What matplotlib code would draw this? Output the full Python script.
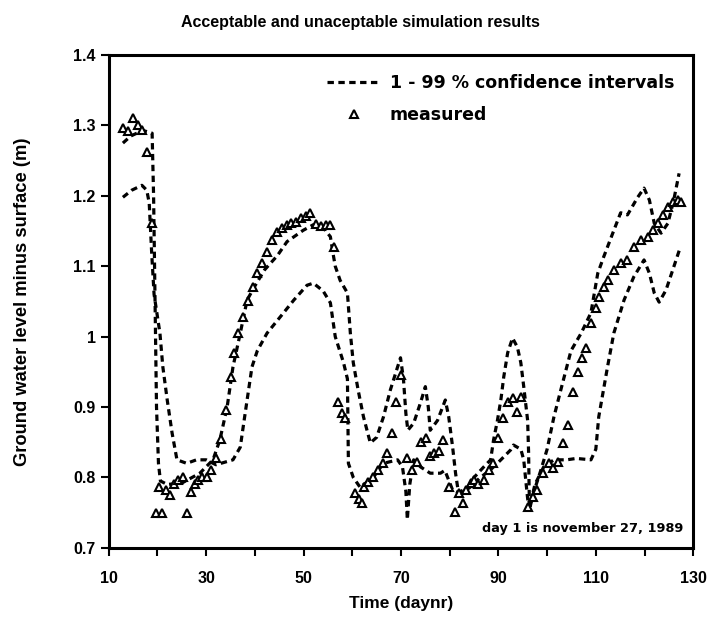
import matplotlib
matplotlib.use("Agg")
import matplotlib.pyplot as plt
from matplotlib.ticker import FixedLocator, FuncFormatter

plt.rcParams['font.family'] = ['Liberation Sans', 'DejaVu Sans']
plt.rcParams['font.weight'] = 'bold'

# --- confidence interval curve 1 ---
ci1_day = [12.9, 14.5, 17.0, 18.9, 19.2, 19.4, 19.6, 19.8, 20.2, 20.6, 22.0, 25.0, 28.7, 31.4, 32.8,
           34.3, 35.5, 37.0, 38.4, 40.0, 42.0, 44.6, 46.6, 49.9, 52.0, 54.0, 55.5, 56.0, 56.5, 57.5,
           59.0, 59.6, 60.2, 61.2, 62.3, 63.7, 65.0, 66.4, 67.8, 69.3, 69.9, 70.5, 71.0, 71.4, 72.6,
           74.0, 75.0, 75.6, 76.0, 77.5, 79.1, 79.8, 80.6, 81.2, 81.8, 83.7, 85.0, 87.0, 88.4, 89.0,
           89.8, 90.5, 91.1, 91.9, 92.9, 93.9, 94.6, 95.2, 96.0, 96.2, 96.3, 96.4, 97.2, 98.7, 100.0,
           101.4, 102.8, 104.9, 107.0, 109.0, 110.4, 111.6, 113.7, 115.1, 116.5, 118.6, 119.9, 121.0,
           122.0, 123.4, 124.8, 126.0, 127.1]
ci1_val = [1.275, 1.285, 1.293, 1.289, 1.20, 1.10, 1.00, 0.90, 0.82, 0.795, 0.790, 0.792, 0.806, 0.825, 0.853,
           0.900, 0.957, 1.005, 1.052, 1.072, 1.095, 1.115, 1.135, 1.151, 1.159, 1.155, 1.142, 1.120, 1.100, 1.080,
           1.062, 1.005, 0.963, 0.924, 0.886, 0.849, 0.857, 0.886, 0.924, 0.957, 0.970, 0.940, 0.891, 0.867, 0.877,
           0.906, 0.929, 0.900, 0.867, 0.881, 0.910, 0.886, 0.843, 0.806, 0.778, 0.786, 0.800, 0.815, 0.825, 0.853,
           0.881, 0.910, 0.943, 0.977, 0.998, 0.985, 0.963, 0.929, 0.881, 0.835, 0.786, 0.755, 0.778, 0.810, 0.840,
           0.886, 0.924, 0.980, 1.005, 1.034, 1.090, 1.113, 1.151, 1.176, 1.173, 1.198, 1.211, 1.194,
           1.161, 1.147, 1.161, 1.194, 1.232]

# --- confidence interval curve 2 ---
ci2_day = [12.9, 14.7, 16.8, 17.8, 18.3, 18.8, 19.3, 20.5, 21.1, 22.0, 23.0, 24.0, 26.0, 28.0, 30.0,
           32.0, 35.5, 37.0, 37.6, 38.4, 39.4, 40.5, 42.5, 45.2, 48.0, 50.7, 52.0, 54.0, 55.5, 56.5,
           58.2, 59.0, 59.1, 59.2, 60.2, 61.6, 64.3, 66.4, 69.3, 70.3, 71.0, 71.3, 71.8, 72.6, 74.0,
           76.0, 78.1, 79.0, 80.6, 82.0, 84.0, 86.3, 88.4, 90.5, 92.5, 93.1, 94.6, 95.2, 95.6, 96.0,
           96.3, 97.5, 99.3, 101.4, 104.0, 106.0, 109.0, 110.0, 110.6, 112.4, 113.7, 115.8, 117.8,
           119.9, 121.0, 122.0, 123.0, 124.4, 126.0, 127.3]
ci2_val = [1.198, 1.208, 1.215, 1.208, 1.190, 1.120, 1.060, 1.005, 0.957, 0.910, 0.863, 0.825, 0.820, 0.825, 0.825,
           0.818, 0.825, 0.843, 0.872, 0.910, 0.957, 0.980, 1.005, 1.028, 1.052, 1.073, 1.076, 1.065, 1.048, 1.000,
           0.963, 0.940, 0.880, 0.820, 0.800, 0.786, 0.800, 0.820, 0.825, 0.815, 0.780, 0.740, 0.790, 0.825, 0.815,
           0.806, 0.806, 0.810, 0.782, 0.778, 0.785, 0.800, 0.811, 0.825, 0.839, 0.846, 0.840, 0.825, 0.797, 0.770,
           0.755, 0.790, 0.815, 0.825, 0.825, 0.827, 0.825, 0.840, 0.886, 0.957, 1.005, 1.052, 1.085,
           1.109, 1.090, 1.062, 1.049, 1.066, 1.099, 1.126]

# --- measured ---
meas_day = [12.9, 13.9, 14.9, 15.9, 16.9, 17.9, 18.9, 19.6, 20.3, 21.0, 21.8, 22.5, 23.3, 24.2, 25.2,
            26.0, 26.8, 27.6, 28.4, 29.2, 30.1, 31.0, 32.0, 33.0, 34.0, 35.0, 35.8, 36.6, 37.6, 38.6,
            39.7, 40.5, 41.5, 42.5, 43.5, 44.5, 45.5, 46.5, 47.5, 48.5, 49.5, 50.5, 51.3, 52.5, 53.5,
            54.5, 55.5, 56.2, 57.0, 57.9, 58.6, 60.6, 61.3, 62.0, 62.4, 63.3, 64.3, 65.3, 66.4, 67.2,
            68.2, 68.9, 69.9, 71.3, 72.3, 73.3, 74.2, 75.1, 76.0, 76.8, 77.7, 78.7, 79.9, 81.0, 82.0,
            82.8, 83.4, 84.3, 85.0, 85.9, 87.0, 88.0, 88.8, 90.0, 90.9, 91.9, 92.9, 93.9, 94.6, 96.1,
            97.1, 98.0, 99.2, 100.3, 101.2, 102.2, 103.2, 104.2, 105.3, 106.3, 107.1, 108.0, 109.0, 110.0,
            110.7, 111.6, 112.6, 113.7, 115.1, 116.5, 117.8, 119.3, 120.7, 121.7, 122.8, 123.8, 124.8,
            125.8, 126.9, 127.5]
meas_val = [1.296, 1.292, 1.310, 1.300, 1.293, 1.262, 1.161, 0.750, 0.786, 0.750, 0.782, 0.775, 0.790, 0.797, 0.800,
            0.750, 0.780, 0.790, 0.797, 0.800, 0.800, 0.810, 0.828, 0.855, 0.896, 0.943, 0.977, 1.005, 1.028, 1.050,
            1.070, 1.090, 1.105, 1.120, 1.137, 1.149, 1.154, 1.159, 1.161, 1.163, 1.168, 1.172, 1.176, 1.160, 1.157,
            1.159, 1.159, 1.127, 0.907, 0.891, 0.884, 0.778, 0.770, 0.764, 0.786, 0.793, 0.800, 0.810, 0.820, 0.835,
            0.863, 0.907, 0.945, 0.827, 0.810, 0.822, 0.850, 0.856, 0.830, 0.835, 0.838, 0.853, 0.786, 0.751, 0.778,
            0.764, 0.782, 0.792, 0.796, 0.790, 0.796, 0.810, 0.820, 0.856, 0.884, 0.907, 0.913, 0.893, 0.914, 0.758,
            0.772, 0.782, 0.806, 0.820, 0.813, 0.822, 0.849, 0.874, 0.921, 0.950, 0.970, 0.984, 1.020, 1.041,
            1.056, 1.070, 1.080, 1.095, 1.105, 1.109, 1.128, 1.137, 1.142, 1.151, 1.161, 1.173, 1.184,
            1.191, 1.194, 1.191]

x_major = [10, 30, 50, 70, 90, 110, 130]
x_minor = [20, 40, 60, 80, 100, 120]
y_ticks = [0.7, 0.8, 0.9, 1.0, 1.1, 1.2, 1.3, 1.4]

fig = plt.figure(figsize=(7.11, 6.19), dpi=100)
ax = fig.add_axes([0.153, 0.115, 0.822, 0.796])

ax.plot(ci1_day, ci1_val, color='black', lw=2.3, dashes=(2.0, 1.4),
        label='1 - 99 % confidence intervals')
ax.plot(ci2_day, ci2_val, color='black', lw=2.3, dashes=(2.0, 1.4))
ax.plot(meas_day, meas_val, ls='none', marker='^', ms=6, mfc='white', mec='black', mew=1.5,
        label='measured')

ax.set_xlim(10, 130)
ax.set_ylim(0.7, 1.4)
ax.xaxis.set_major_locator(FixedLocator(x_major))
ax.xaxis.set_minor_locator(FixedLocator(x_minor))
ax.yaxis.set_major_locator(FixedLocator(y_ticks))
ax.yaxis.set_major_formatter(FuncFormatter(lambda v, p: '%g' % round(v, 2)))
ax.tick_params(which='both', direction='out', length=6, width=1.5, labelsize=11.5)
ax.tick_params(axis='x', which='major', pad=11)
for s in ax.spines.values():
    s.set_linewidth(2.2)

fig.text(360 / 711, 1 - 22 / 619, 'Acceptable and unaceptable simulation results',
         ha='center', va='center', fontsize=11.5, fontweight='bold')
ax.set_xlabel('Time (daynr)', fontsize=12.5, fontweight='bold', labelpad=7)
ax.set_ylabel('Ground water level minus surface (m)', fontsize=13.2, fontweight='bold', labelpad=30)

leg = ax.legend(loc='upper right', frameon=False,
                prop={'family': 'DejaVu Sans', 'weight': 'bold', 'size': 12.5},
                handlelength=3.1, borderaxespad=0.8, labelspacing=0.8, handletextpad=0.5,
                borderpad=0.3)

ax.text(0.984, 0.027, 'day 1 is november 27, 1989', transform=ax.transAxes, ha='right', va='bottom',
        fontsize=9.3, fontweight='bold', family='DejaVu Sans')

fig.savefig('out.png', dpi=100)
